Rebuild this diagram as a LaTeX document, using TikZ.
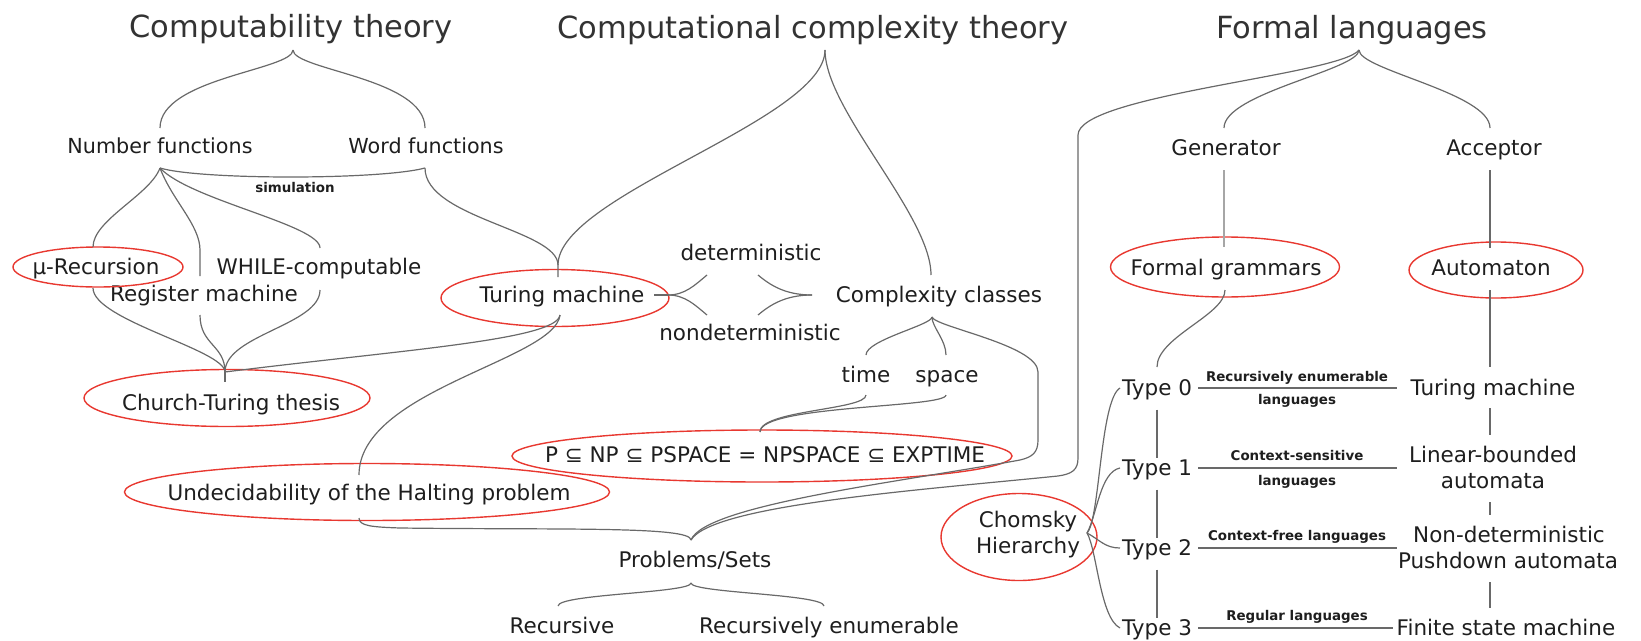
\documentclass[tikz,border=0pt]{standalone}
\usepackage{fontspec}
\setmainfont{DejaVu Sans}
\usetikzlibrary{shapes.geometric}
\definecolor{ovred}{RGB}{232,56,48}
\definecolor{lgray}{RGB}{105,105,105}
\definecolor{txt}{RGB}{30,30,30}
\begin{document}
\begin{tikzpicture}[x=1pt,y=1pt,
  lbl/.style={inner sep=0pt, anchor=base, text=txt, font=\fontsize{21.5}{24}\selectfont},
  lbls/.style={inner sep=0pt, anchor=base, text=txt, font=\fontsize{20.7}{24}\selectfont},
  ttl/.style={inner sep=0pt, anchor=base, text=black!80, font=\fontsize{30.5}{34}\selectfont},
  sml/.style={inner sep=0pt, anchor=base, text=txt, font=\bfseries\fontsize{13.4}{15}\selectfont},
  ov/.style={draw=ovred, line width=1.4pt, ellipse, inner sep=0pt},
  conn/.style={draw=lgray, line width=1.2pt},
  thickconn/.style={draw=black!35, line width=2.6pt},
]
\useasboundingbox (0,0) rectangle (1641,-640);

% ---------- titles ----------
\node[ttl] (t1) at (291,-37) {Computability theory};
\node[ttl] (t2) at (813,-38) {Computational complexity theory};
\node[ttl] (t3) at (1352,-38) {Formal languages};

% ---------- labels ----------
\node[lbls] (nf) at (160,-153) {Number functions};
\node[lbls] (wf) at (426,-153) {Word functions};
\node[sml] (sim) at (295,-192) {simulation};
\node[lbl] (mu) at (96,-274) {μ-Recursion};
\node[lbl] (wh) at (319,-274) {WHILE-computable};
\node[lbl] (reg) at (204,-301) {Register machine};
\node[lbl] (ct) at (231,-410) {Church-Turing thesis};
\node[lbl] (tm) at (562,-302) {Turing machine};
\node[lbl] (det) at (751,-260) {deterministic};
\node[lbl] (ndet) at (750,-340) {nondeterministic};
\node[lbl] (cc) at (939,-302) {Complexity classes};
\node[lbl] (time) at (866,-382) {time};
\node[lbl] (space) at (947,-382) {space};
\node[lbl] (pnp) at (765,-462) {P ⊆ NP ⊆ PSPACE = NPSPACE ⊆ EXPTIME};
\node[lbl] (und) at (369,-500) {Undecidability of the Halting problem};
\node[lbl] (ps) at (695,-567) {Problems/Sets};
\node[lbl] (rec) at (562,-633) {Recursive};
\node[lbl] (re) at (829,-633) {Recursively enumerable};
\node[lbl] (gen) at (1226,-155) {Generator};
\node[lbl] (acc) at (1494,-155) {Acceptor};
\node[lbl] (fg) at (1226,-275) {Formal grammars};
\node[lbl] (aut) at (1491,-275) {Automaton};
\node[lbl] (ch1) at (1028,-527) {Chomsky};
\node[lbl] (ch2) at (1028,-553) {Hierarchy};
\node[lbl] (ty0) at (1157,-395) {Type 0};
\node[lbl] (ty1) at (1157,-475) {Type 1};
\node[lbl] (ty2) at (1157,-555) {Type 2};
\node[lbl] (ty3) at (1157,-635) {Type 3};
\node[sml] (l0a) at (1297,-381) {Recursively enumerable};
\node[sml] (l0b) at (1297,-404) {languages};
\node[sml] (l1a) at (1297,-460) {Context-sensitive};
\node[sml] (l1b) at (1297,-485) {languages};
\node[sml] (l2) at (1297,-540) {Context-free languages};
\node[sml] (l3) at (1297,-620) {Regular languages};
\node[lbl] (tm2) at (1493,-395) {Turing machine};
\node[lbl] (lba1) at (1493,-462) {Linear-bounded};
\node[lbl] (lba2) at (1493,-488) {automata};
\node[lbl] (pda1) at (1509,-542) {Non-deterministic};
\node[lbl] (pda2) at (1508,-568) {Pushdown automata};
\node[lbl] (fsm) at (1506,-635) {Finite state machine};

% ---------- red ovals ----------
\node[ov, minimum width=170pt, minimum height=40pt] (omu) at (98,-267) {};
\node[ov, minimum width=286pt, minimum height=57pt] (oct) at (227,-398) {};
\node[ov, minimum width=228pt, minimum height=57pt] (otm) at (555,-298) {};
\node[ov, minimum width=485pt, minimum height=57pt] (ound) at (367,-492) {};
\node[ov, minimum width=500pt, minimum height=52pt] (op) at (762,-456) {};
\node[ov, minimum width=229pt, minimum height=60pt] (ofg) at (1225,-267) {};
\node[ov, minimum width=174pt, minimum height=56pt] (oaut) at (1496,-270) {};
\node[ov, minimum width=156pt, minimum height=87pt] (och) at (1019,-537) {};

% ---------- connector points ----------
\coordinate (t1tip) at (293,-50);
\coordinate (nfT) at (160,-128);
\coordinate (wfT) at (425,-128);
\coordinate (t2tip) at (825,-50);
\coordinate (tmJ) at (558,-265);
\coordinate (tmT) at (558,-277);
\coordinate (ccT) at (931,-275);
\coordinate (t3tip) at (1359,-50);
\coordinate (genT) at (1224,-128);
\coordinate (accT) at (1490,-128);
\coordinate (flA) at (1078,-135);
\coordinate (flB) at (1078,-458);
\coordinate (nfB) at (160,-168);
\coordinate (wfB) at (425,-168);
\coordinate (muT) at (93,-247);
\coordinate (regT) at (200,-276);
\coordinate (regJ) at (200,-250);
\coordinate (whT) at (320,-248);
\coordinate (muB) at (93,-288);
\coordinate (regB) at (200,-315);
\coordinate (whB) at (320,-290);
\coordinate (cttip) at (225,-372);
\coordinate (ctS) at (225,-382);
\coordinate (tmB) at (560,-315);
\coordinate (undT) at (359,-475);
\coordinate (undB) at (359,-518);
\coordinate (undR) at (400,-528);
\coordinate (tmR) at (654,-295);
\coordinate (lbTip) at (668,-295);
\coordinate (lbU) at (707,-275);
\coordinate (lbD) at (707,-315);
\coordinate (rbU) at (758,-275);
\coordinate (rbD) at (758,-315);
\coordinate (rbTip) at (812,-295);
\coordinate (cctip) at (932,-317);
\coordinate (timeT) at (866,-355);
\coordinate (spaceT) at (946,-355);
\coordinate (ccA) at (1038,-372);
\coordinate (ccB) at (1038,-440);
\coordinate (timeB) at (866,-395);
\coordinate (spaceB) at (946,-395);
\coordinate (ptip) at (760,-432);
\coordinate (pstip) at (691,-540);
\coordinate (psB) at (691,-583);
\coordinate (recT) at (558,-606);
\coordinate (reT) at (824,-606);
\coordinate (genB) at (1224,-170);
\coordinate (fgT) at (1224,-247);
\coordinate (accB) at (1490,-170);
\coordinate (autT) at (1490,-248);
\coordinate (fgB) at (1225,-290);
\coordinate (ty0T) at (1157,-367);
\coordinate (autB) at (1490,-290);
\coordinate (tm2T) at (1490,-367);
\coordinate (chtip) at (1087,-533);
\coordinate (ty0L) at (1120,-388);
\coordinate (ty1L) at (1120,-468);
\coordinate (ty2L) at (1120,-548);
\coordinate (ty3L) at (1120,-628);

% ---------- computability ----------
\draw[conn] (t1tip) .. controls +(0,-20) and +(0,50) .. (nfT);
\draw[conn] (t1tip) .. controls +(0,-20) and +(0,50) .. (wfT);
\draw[conn] (nfB) .. controls (200,-180) and (380,-180) .. (wfB);
\draw[conn] (wfB) .. controls +(0,-50) and +(0,35) .. (tmJ);
\draw[conn] (nfB) .. controls (150,-195) and (93,-220) .. (muT);
\draw[conn] (nfB) .. controls (172,-200) and (200,-225) .. (regJ) -- (regT);
\draw[conn] (nfB) .. controls (190,-200) and (320,-225) .. (whT);
\draw[conn] (muB) .. controls (93,-320) and (225,-350) .. (cttip);
\draw[conn] (regB) .. controls (200,-345) and (225,-345) .. (cttip);
\draw[conn] (whB) .. controls (320,-325) and (225,-335) .. (cttip);
\draw[conn] (tmB) .. controls (557,-340) and (400,-350) .. (cttip);
\draw[conn] (cttip) -- (ctS);
\draw[conn] (tmB) .. controls (555,-360) and (359,-390) .. (undT);

% ---------- complexity ----------
\draw[conn] (t2tip) .. controls +(0,-70) and +(0,70) .. (tmJ) -- (tmT);
\draw[conn] (t2tip) .. controls +(0,-60) and +(0,60) .. (ccT);
\draw[conn] (tmR) -- (lbTip);
\draw[conn] (lbTip) .. controls (685,-295) and (695,-285) .. (lbU);
\draw[conn] (lbTip) .. controls (685,-295) and (695,-305) .. (lbD);
\draw[conn] (rbU) .. controls (770,-285) and (785,-295) .. (rbTip);
\draw[conn] (rbD) .. controls (770,-305) and (785,-295) .. (rbTip);
\draw[conn] (cctip) .. controls +(0,-8) and +(0,15) .. (timeT);
\draw[conn] (cctip) .. controls +(0,-10) and +(0,15) .. (spaceT);
\draw[conn] (cctip) .. controls (935,-327) and (1038,-345) .. (ccA) -- (ccB)
  .. controls (1038,-452) and (1033,-457) .. (1020,-460)
  .. controls (900,-482) and (705,-505) .. (pstip);
\draw[conn] (timeB) .. controls (866,-410) and (760,-410) .. (ptip);
\draw[conn] (spaceB) .. controls (946,-408) and (760,-405) .. (ptip);
\draw[conn] (undB) .. controls (359,-526) and (372,-527) .. (undR)
  .. controls (560,-530) and (691,-526) .. (pstip);
\draw[conn] (psB) .. controls +(0,-10) and +(0,12) .. (recT);
\draw[conn] (psB) .. controls +(0,-10) and +(0,12) .. (reT);

% ---------- formal languages ----------
\draw[conn] (t3tip) .. controls +(0,-20) and +(0,35) .. (genT);
\draw[conn] (t3tip) .. controls +(0,-20) and +(0,35) .. (accT);
\draw[conn] (t3tip) .. controls (1340,-75) and (1078,-95) .. (flA) -- (flB)
  .. controls (1078,-470) and (1072,-474) .. (1058,-476)
  .. controls (920,-490) and (712,-505) .. (pstip);
\draw[thickconn] (genB) -- (fgT);
\draw[conn] (accB) -- (autT);
\draw[conn] (fgB) .. controls +(0,-25) and +(0,30) .. (ty0T);
\draw[conn] (autB) -- (tm2T);
\draw[conn] (chtip) .. controls (1100,-520) and (1100,-400) .. (ty0L);
\draw[conn] (chtip) .. controls (1097,-515) and (1100,-472) .. (ty1L);
\draw[conn] (chtip) .. controls (1100,-540) and (1105,-548) .. (ty2L);
\draw[conn] (chtip) .. controls (1097,-550) and (1100,-618) .. (ty3L);
\draw[conn] ([yshift=-10pt]ty0.south) -- ([yshift=-10pt]ty0.south |- 0,-448);
\draw[conn] ([yshift=-10pt]ty1.south) -- ([yshift=-10pt]ty1.south |- 0,-528);
\draw[conn] ([yshift=-10pt]ty2.south) -- ([yshift=-10pt]ty2.south |- 0,-608);
\coordinate (h0a) at (1198,-388); \coordinate (h0b) at (1397,-388);
\coordinate (h1a) at (1198,-468); \coordinate (h1b) at (1397,-468);
\coordinate (h2a) at (1198,-548); \coordinate (h2b) at (1397,-548);
\coordinate (h3a) at (1198,-628); \coordinate (h3b) at (1393,-628);
\draw[conn] (h0a) -- (h0b);
\draw[conn] (h1a) -- (h1b);
\draw[conn] (h2a) -- (h2b);
\draw[conn] (h3a) -- (h3b);
\coordinate (r0a) at (1490,-408); \coordinate (r0b) at (1490,-435);
\coordinate (r1a) at (1490,-502); \coordinate (r1b) at (1490,-515);
\coordinate (r2a) at (1490,-582); \coordinate (r2b) at (1490,-608);
\draw[conn] (r0a) -- (r0b);
\draw[conn] (r1a) -- (r1b);
\draw[conn] (r2a) -- (r2b);
\end{tikzpicture}
\end{document}
